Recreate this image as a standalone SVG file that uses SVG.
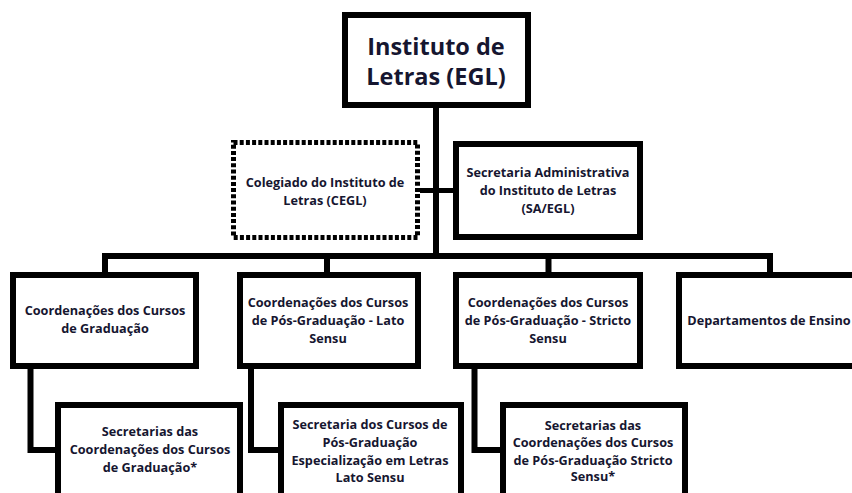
<svg xmlns="http://www.w3.org/2000/svg" width="852" height="493" viewBox="0 0 852 493">
<style>
.box{fill:#fff;stroke:#000;stroke-width:6;stroke-linejoin:miter}
.dot{fill:#fff;stroke:#000;stroke-width:5;stroke-dasharray:4 2.2}
.ln{fill:none;stroke:#000;stroke-width:6;stroke-linejoin:miter}
text{font-family:"Open Sans","Liberation Sans",sans-serif;font-weight:bold;fill:#161630;text-anchor:middle;font-size:12.7px}
.t{font-size:23.5px}
</style>
<rect width="852" height="493" fill="#fff"/>
<g id="connectors">
<path class="ln" d="M436 105V256"/>
<path class="ln" d="M420 190.5H455" style="stroke-width:5"/>
<path class="ln" d="M105 275V256H770V275"/>
<path class="ln" d="M327 256V275"/>
<path class="ln" d="M548.5 256V275"/>
<path class="ln" d="M30.5 366V450H58"/>
<path class="ln" d="M251 366V450H281"/>
<path class="ln" d="M474.5 366V450H503"/>
</g>
<g id="egl">
<rect class="box" x="345" y="15" width="183" height="90"/>
<text class="t" x="436" y="55">Instituto de</text>
<text class="t" x="436" y="85">Letras (EGL)</text>
</g>
<g id="cegl">
<rect class="dot" x="233.5" y="142.5" width="184" height="95"/>
<text x="325" y="187">Colegiado do Instituto de</text>
<text x="325" y="205">Letras (CEGL)</text>
</g>
<g id="sa">
<rect class="box" x="456" y="144" width="184" height="93"/>
<text x="548" y="177">Secretaria Administrativa</text>
<text x="548" y="195">do Instituto de Letras</text>
<text x="548" y="213">(SA/EGL)</text>
</g>
<g id="grad">
<rect class="box" x="13" y="275" width="183" height="91"/>
<text x="105" y="315">Coordenações dos Cursos</text>
<text x="105" y="333">de Graduação</text>
</g>
<g id="lato">
<rect class="box" x="240" y="275" width="178" height="91"/>
<text x="328" y="307">Coordenações dos Cursos</text>
<text x="328" y="325">de Pós-Graduação - Lato</text>
<text x="328" y="343">Sensu</text>
</g>
<g id="stricto">
<rect class="box" x="456" y="275" width="184" height="91"/>
<text x="548" y="307">Coordenações dos Cursos</text>
<text x="548" y="325">de Pós-Graduação - Stricto</text>
<text x="548" y="343">Sensu</text>
</g>
<g id="dep">
<rect class="box" x="679" y="275" width="200" height="91"/>
<text x="769" y="325">Departamentos de Ensino</text>
</g>
<g id="sec-grad">
<rect class="box" x="58" y="405" width="182" height="110"/>
<text x="150" y="436">Secretarias das</text>
<text x="150" y="454">Coordenações dos Cursos</text>
<text x="150" y="472">de Graduação*</text>
</g>
<g id="sec-lato">
<rect class="box" x="281" y="405" width="180" height="110"/>
<text x="370" y="429">Secretaria dos Cursos de</text>
<text x="370" y="447">Pós-Graduação</text>
<text x="370" y="464.5">Especialização em Letras</text>
<text x="370" y="482">Lato Sensu</text>
</g>
<g id="sec-stricto">
<rect class="box" x="503" y="405" width="182" height="110"/>
<text x="593" y="430">Secretarias das</text>
<text x="593" y="447">Coordenações dos Cursos</text>
<text x="593" y="464.5">de Pós-Graduação Stricto</text>
<text x="593" y="481">Sensu*</text>
</g>
</svg>
